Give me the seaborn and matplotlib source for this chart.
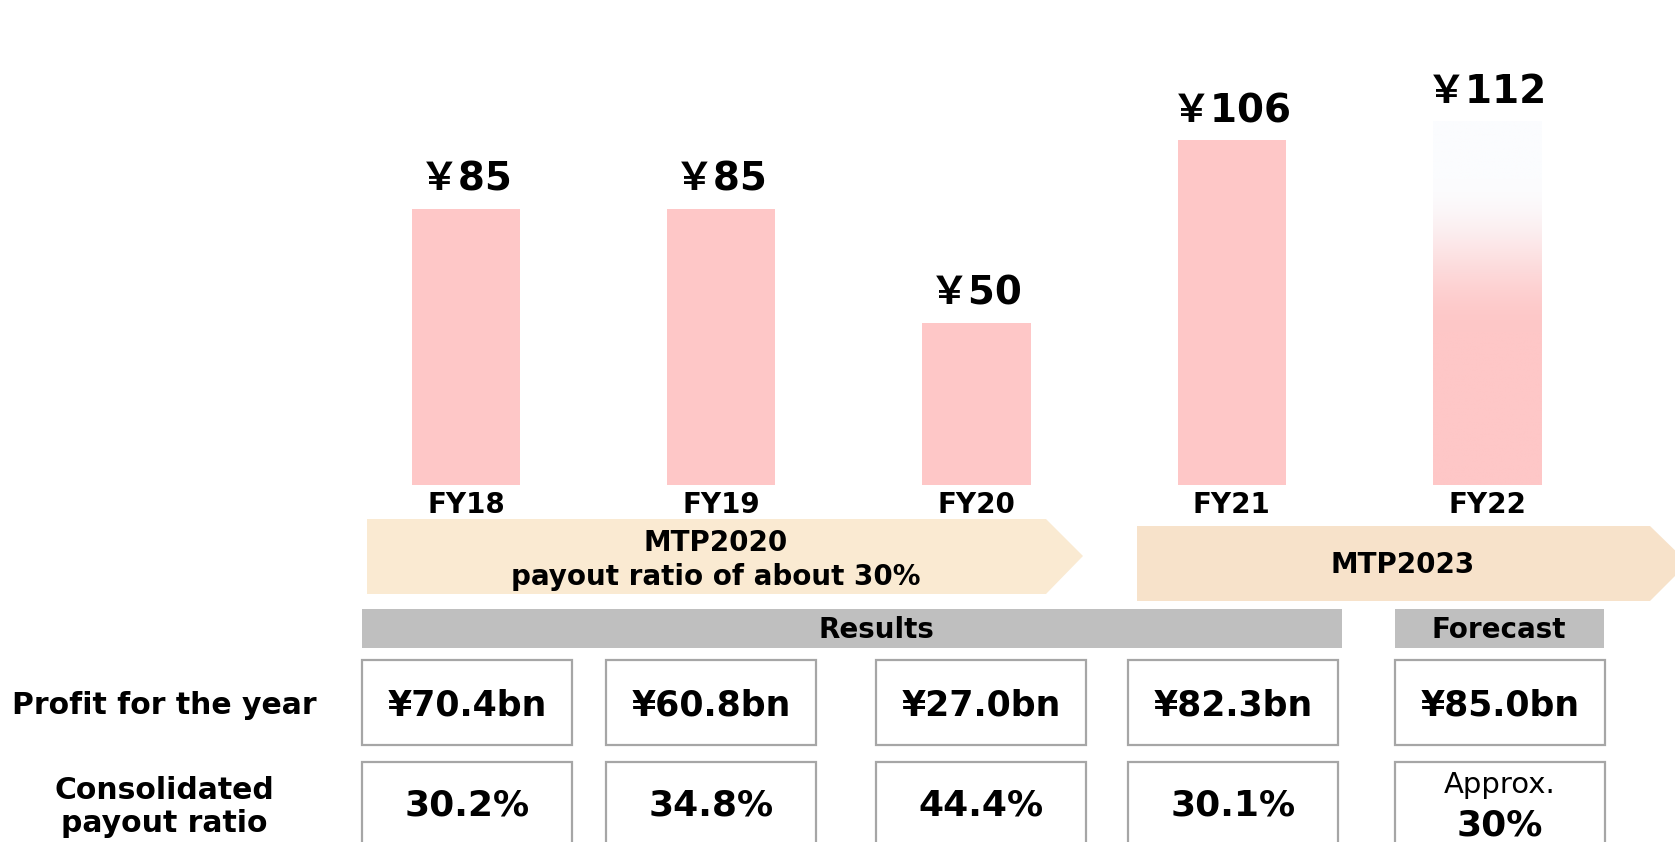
import matplotlib
matplotlib.use("Agg")
import matplotlib.pyplot as plt
import seaborn as sns
import pandas as pd
import numpy as np
from matplotlib.patches import Rectangle, Polygon

# =========================================
# data
# =========================================
years = ["FY18", "FY19", "FY20", "FY21", "FY22"]
dividends = [85, 85, 50, 106, 112]
profit_bn = [70.4, 60.8, 27.0, 82.3, 85.0]
payout_pct = [30.2, 34.8, 44.4, 30.1, 30]
plans = ["MTP2020\npayout ratio of about 30%", "MTP2023"]
row_labels = ["Profit for the year", "Consolidated\npayout ratio"]

df = pd.DataFrame({"year": years, "dividend": dividends})

sns.set_theme(style="white")
plt.rcParams["font.family"] = ["DejaVu Sans", "Noto Sans CJK JP"]
plt.rcParams["text.color"] = "black"

W, H = 1675, 842
fig = plt.figure(figsize=(W / 100, H / 100), dpi=100)

# overlay axes in pixel coords for the table part
ax2 = fig.add_axes([0, 0, 1, 1])
ax2.set_xlim(0, W)
ax2.set_ylim(H, 0)
ax2.axis("off")

# bar axes
base_px = 485
px_per_unit = 3.25
ax = fig.add_axes([0, 1 - base_px / H, 1, base_px / H])
ax.patch.set_alpha(0)

bar_color = "#FEC7C7"
sns.barplot(data=df, x="year", y="dividend", color=bar_color, width=0.425,
            saturation=1, linewidth=0, ax=ax)

# forecast bar with gradient fill
last = ax.patches[-1]
bx, bw, bh = last.get_x(), last.get_width(), last.get_height()
last.set_facecolor("none")
n = 256
t = np.linspace(0, 1, n)
s = np.clip((t - 0.42) / 0.42, 0, 1)
s = s * s * (3 - 2 * s)
pink = np.array([254, 199, 199]) / 255
top = np.array([251, 252, 254]) / 255
grad = pink[None, :] * (1 - s[:, None]) + top[None, :] * s[:, None]
grad = np.repeat(grad[:, None, :], 2, axis=1)
im = ax.imshow(grad, extent=[bx, bx + bw, 0, bh], origin="lower",
               aspect="auto", zorder=2)
im.set_clip_path(last)

x0 = 466
step = 255.25
ax.set_xlim(-x0 / step, (W - x0) / step)
ax.set_ylim(0, base_px / px_per_unit)
ax.axis("off")

for i, v in enumerate(dividends):
    ax.annotate(f"￥{v}", (i, v), xytext=(0, 13), textcoords="offset points",
                ha="center", va="baseline", fontsize=28, fontweight="bold")
    ax2.text(x0 + step * i, base_px + 20, years[i], ha="center", va="center",
             fontsize=20, fontweight="bold")

# plan arrows
arr1 = Polygon([(367, 519), (1046, 519), (1083, 556), (1046, 594), (367, 594)],
               closed=True, facecolor="#FAEAD2", edgecolor="none")
arr2 = Polygon([(1137, 526), (1650, 526), (1688, 563), (1650, 601), (1137, 601)],
               closed=True, facecolor="#F7E2CA", edgecolor="none")
ax2.add_patch(arr1)
ax2.add_patch(arr2)
ax2.text(716, 560, plans[0], ha="center", va="center", fontsize=20,
         fontweight="bold", linespacing=1.25)
ax2.text(1403, 565, plans[1], ha="center", va="center", fontsize=20,
         fontweight="bold")

# results / forecast headers
ax2.add_patch(Rectangle((362, 609), 980, 39, facecolor="#BFBFBF", edgecolor="none"))
ax2.add_patch(Rectangle((1395, 609), 209, 39, facecolor="#BFBFBF", edgecolor="none"))
ax2.text(876, 630, "Results", ha="center", va="center", fontsize=20, fontweight="bold")
ax2.text(1499, 630, "Forecast", ha="center", va="center", fontsize=20, fontweight="bold")

# table rows
box_left = [362, 606, 876, 1128, 1395]
box_w = 210
for i in range(len(years)):
    ax2.add_patch(Rectangle((box_left[i], 660), box_w, 85, facecolor="white",
                            edgecolor="#A6A6A6", linewidth=1.6))
    ax2.add_patch(Rectangle((box_left[i], 762), box_w, 100, facecolor="white",
                            edgecolor="#A6A6A6", linewidth=1.6))
    cx = box_left[i] + box_w / 2
    ax2.text(cx, 705, f"¥{profit_bn[i]:.1f}bn", ha="center", va="center",
             fontsize=25, fontweight="bold")
    if i < len(years) - 1:
        ax2.text(cx, 806, f"{payout_pct[i]:.1f}%", ha="center", va="center",
                 fontsize=26, fontweight="bold")
    else:
        ax2.text(cx, 785, "Approx.", ha="center", va="center", fontsize=21)
        ax2.text(cx, 825, f"{payout_pct[i]:.0f}%", ha="center", va="center",
                 fontsize=26, fontweight="bold")

ax2.text(164, 706, row_labels[0], ha="center", va="center", fontsize=21.5,
         fontweight="bold")
ax2.text(164, 807, row_labels[1], ha="center", va="center", fontsize=21.5,
         fontweight="bold", linespacing=1.2)

fig.savefig("out.png", dpi=100)
